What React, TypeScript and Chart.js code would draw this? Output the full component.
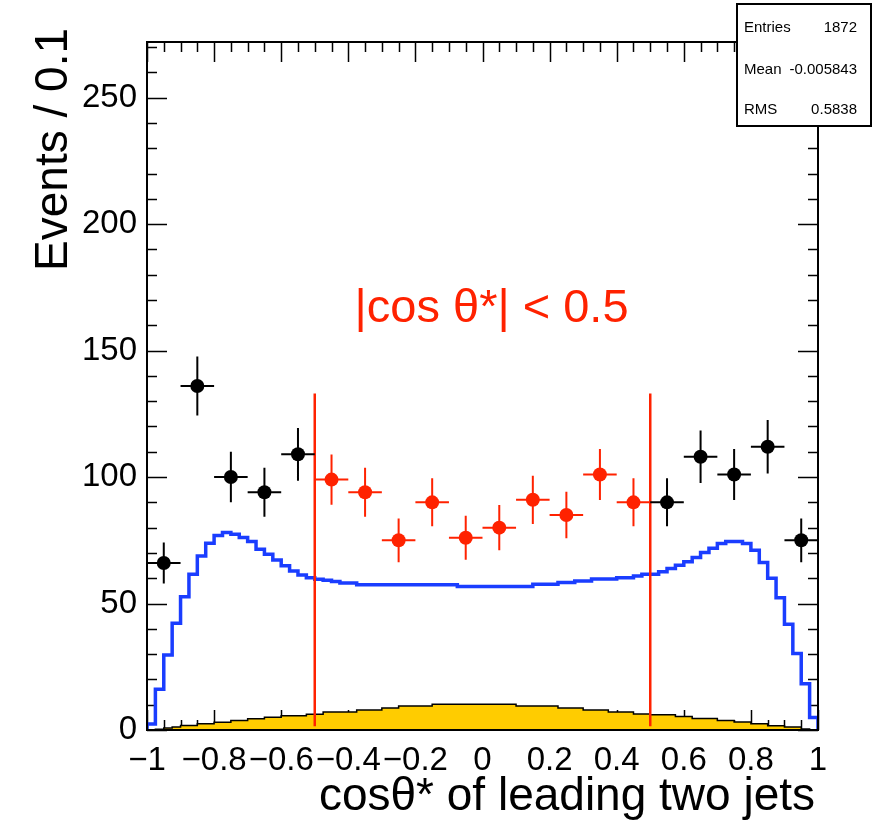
import React, { useEffect, useRef } from 'react';
import { Chart, registerables } from 'chart.js';

Chart.register(...registerables);

// ---- axis ranges ----
const X_MIN = -1;
const X_MAX = 1;
const Y_MIN = 0;
const Y_MAX = 272;

// ---- data points (bin width 0.1) ----
const blackCenters = [-0.95, -0.85, -0.75, -0.65, -0.55, 0.55, 0.65, 0.75, 0.85, 0.95];
const blackCounts = [66, 136, 100, 94, 109, 90, 108, 101, 112, 75];
const redCenters = [-0.45, -0.35, -0.25, -0.15, -0.05, 0.05, 0.15, 0.25, 0.35, 0.45];
const redCounts = [99, 94, 75, 90, 76, 80, 91, 85, 101, 90];
const DATA_HALF_BIN = 0.05;

// ---- simulated histograms (80 bins of width 0.025 from -1 to 1) ----
const HIST_BIN = 0.025;
const blueHist = [
  2.4, 16.1, 29.7, 42.2, 52.7, 61.6, 68.8, 73.8, 76.9, 78.1,
  77.4, 76.1, 74.5, 71.5, 69.5, 67.2, 64.9, 62.9, 61.3, 60.2,
  59.6, 59.2, 58.7, 58.1, 58.1, 57.4, 57.4, 57.4, 57.4, 57.4,
  57.4, 57.4, 57.4, 57.4, 57.4, 57.4, 57.4, 56.7, 56.7, 56.7,
  56.7, 56.7, 56.7, 56.7, 56.7, 56.7, 57.6, 57.6, 57.6, 58.3,
  58.3, 58.9, 58.9, 59.7, 59.7, 59.7, 60.2, 60.2, 60.9, 61.6,
  61.6, 62.6, 63.8, 65.1, 66.5, 68.2, 70.2, 71.9, 73.7, 74.5,
  74.5, 73.7, 71.1, 66.2, 60.0, 52.3, 41.8, 30.2, 18.3, 4.9,
];
const yellowHist = [
  0.1, 0.3, 0.8, 1.2, 1.8, 1.8, 2.5, 2.5, 3.1, 3.1,
  3.8, 3.8, 4.4, 4.4, 5.0, 5.0, 5.6, 5.6, 5.6, 6.2,
  6.2, 7.1, 7.1, 7.1, 7.1, 7.9, 7.9, 7.9, 8.7, 8.7,
  9.5, 9.5, 9.5, 9.5, 10.2, 10.2, 10.2, 10.2, 10.2, 10.2,
  10.2, 10.2, 10.2, 10.2, 9.5, 9.5, 9.5, 9.5, 9.5, 8.7,
  8.7, 8.7, 7.9, 7.9, 7.9, 7.1, 7.1, 7.1, 6.3, 6.3,
  6.0, 6.0, 6.0, 5.3, 5.3, 4.5, 4.5, 4.5, 3.8, 3.8,
  3.2, 3.2, 2.5, 2.5, 1.7, 1.7, 1.2, 1.2, 0.4, 0.1,
];

// ---- cut lines ----
const cutPositions = [-0.5, 0.5];
const cutLow = 1.5;
const cutHigh = 133;

// ---- tick settings ----
const xMajorStep = 0.2;
const xMinorStep = 0.05;
const yMajorStep = 50;
const yMinorStep = 10;

// ---- stats ----
const statsRows: [string, string][] = [
  ['Entries', '1872'],
  ['Mean', '-0.005843'],
  ['RMS', '0.5838'],
];

const FONT = "'Liberation Sans', Arial, Helvetica, sans-serif";
const RED = '#ff2200';
const BLUE = '#1a3dff';
const GOLD = '#ffcc00';

function histPoints(values: number[]) {
  const pts: { x: number; y: number }[] = [{ x: X_MIN, y: 0 }];
  values.forEach((v, i) => pts.push({ x: X_MIN + i * HIST_BIN, y: v }));
  pts.push({ x: X_MAX, y: values[values.length - 1] });
  pts.push({ x: X_MAX, y: 0 });
  return pts;
}

function errorBarPoints(centers: number[], counts: number[]) {
  const pts: { x: number; y: number | null }[] = [];
  centers.forEach((c, i) => {
    const n = counts[i];
    const e = Math.sqrt(n);
    pts.push({ x: c - DATA_HALF_BIN, y: n }, { x: c + DATA_HALF_BIN, y: n }, { x: c, y: null });
    pts.push({ x: c, y: n - e }, { x: c, y: n + e }, { x: c, y: null });
  });
  return pts;
}

function cutPoints() {
  const pts: { x: number; y: number | null }[] = [];
  cutPositions.forEach((c) => {
    pts.push({ x: c, y: cutLow }, { x: c, y: cutHigh }, { x: c, y: null });
  });
  return pts;
}

const decorPlugin = {
  id: 'rootDecor',
  beforeDatasetsDraw(chart: any) {
    const { ctx, chartArea: a, scales } = chart;
    const xs = scales.x;
    const ys = scales.y;
    ctx.save();
    ctx.strokeStyle = '#000';
    ctx.lineWidth = 1.5;
    ctx.beginPath();
    const nx = Math.round((X_MAX - X_MIN) / xMinorStep);
    const perMajX = Math.round(xMajorStep / xMinorStep);
    for (let i = 0; i <= nx; i++) {
      const v = X_MIN + i * xMinorStep;
      const px = Math.round(xs.getPixelForValue(v)) + 0.5;
      const len = i % perMajX === 0 ? 20 : 10;
      ctx.moveTo(px, a.bottom);
      ctx.lineTo(px, a.bottom - len);
      ctx.moveTo(px, a.top);
      ctx.lineTo(px, a.top + len);
    }
    const perMajY = Math.round(yMajorStep / yMinorStep);
    for (let i = 0; Y_MIN + i * yMinorStep <= Y_MAX; i++) {
      const v = Y_MIN + i * yMinorStep;
      const py = Math.round(ys.getPixelForValue(v)) + 0.5;
      const len = i % perMajY === 0 ? 20 : 10;
      ctx.moveTo(a.left, py);
      ctx.lineTo(a.left + len, py);
      ctx.moveTo(a.right, py);
      ctx.lineTo(a.right - len, py);
    }
    ctx.stroke();
    ctx.restore();
  },
  afterDatasetsDraw(chart: any) {
    const { ctx, chartArea: a, scales } = chart;
    const xs = scales.x;
    const ys = scales.y;
    ctx.save();
    // frame
    ctx.strokeStyle = '#000';
    ctx.lineWidth = 2;
    ctx.strokeRect(a.left, a.top, a.right - a.left, a.bottom - a.top);

    // cut label
    ctx.fillStyle = RED;
    ctx.font = `47px ${FONT}`;
    ctx.textAlign = 'center';
    ctx.textBaseline = 'alphabetic';
    ctx.fillText('|cos θ*| < 0.5', xs.getPixelForValue(0.027), ys.getPixelForValue(161.5));

    // axis titles
    ctx.fillStyle = '#000';
    ctx.font = `46px ${FONT}`;
    ctx.textAlign = 'right';
    ctx.textBaseline = 'alphabetic';
    ctx.fillText('cosθ* of leading two jets', 815, 810);

    ctx.save();
    ctx.translate(67, 28);
    ctx.rotate(-Math.PI / 2);
    ctx.textAlign = 'right';
    ctx.fillText('Events / 0.1', 0, 0);
    ctx.restore();

    // stats box
    ctx.fillStyle = '#fff';
    ctx.fillRect(737, 4, 134, 122);
    ctx.lineWidth = 2;
    ctx.strokeStyle = '#000';
    ctx.strokeRect(737, 4, 134, 122);
    ctx.fillStyle = '#000';
    ctx.font = `15px ${FONT}`;
    const baselines = [31.5, 73.5, 114];
    statsRows.forEach((row, i) => {
      ctx.textAlign = 'left';
      ctx.fillText(row[0], 744, baselines[i]);
      ctx.textAlign = 'right';
      ctx.fillText(row[1], 857, baselines[i]);
    });
    ctx.restore();
  },
};

function fmt(v: number) {
  const r = Math.round(v * 10) / 10;
  if (r === 0) return '0';
  return r < 0 ? '\u2212' + String(-r) : String(r);
}

export default function App() {
  const ref = useRef<HTMLCanvasElement>(null);
  useEffect(() => {
    if (!ref.current) return;
    const chart = new Chart(ref.current, {
      type: 'scatter',
      data: {
        datasets: [
          {
            type: 'scatter',
            label: 'data (outside cut)',
            data: blackCenters.map((c, i) => ({ x: c, y: blackCounts[i] })),
            backgroundColor: '#000',
            borderColor: '#000',
            pointRadius: 7,
            pointHoverRadius: 7,
            borderWidth: 0,
            order: 1,
          },
          {
            type: 'scatter',
            label: 'data (inside cut)',
            data: redCenters.map((c, i) => ({ x: c, y: redCounts[i] })),
            backgroundColor: RED,
            borderColor: RED,
            pointRadius: 7,
            pointHoverRadius: 7,
            borderWidth: 0,
            order: 2,
          },
          {
            type: 'line',
            label: 'errors black',
            data: errorBarPoints(blackCenters, blackCounts),
            borderColor: '#000',
            borderWidth: 2,
            pointRadius: 0,
            spanGaps: false,
            fill: false,
            tension: 0,
            order: 3,
          } as any,
          {
            type: 'line',
            label: 'errors red',
            data: errorBarPoints(redCenters, redCounts),
            borderColor: RED,
            borderWidth: 2,
            pointRadius: 0,
            spanGaps: false,
            fill: false,
            tension: 0,
            order: 4,
          } as any,
          {
            type: 'line',
            label: 'cut',
            data: cutPoints(),
            borderColor: RED,
            borderWidth: 2.5,
            pointRadius: 0,
            spanGaps: false,
            fill: false,
            order: 5,
          } as any,
          {
            type: 'line',
            label: 'blue',
            data: histPoints(blueHist),
            borderColor: BLUE,
            borderWidth: 3.5,
            pointRadius: 0,
            stepped: true,
            fill: false,
            order: 6,
          } as any,
          {
            type: 'line',
            label: 'yellow',
            data: histPoints(yellowHist),
            borderColor: '#000',
            backgroundColor: GOLD,
            borderWidth: 1.5,
            pointRadius: 0,
            stepped: true,
            fill: 'origin',
            order: 7,
          } as any,
        ],
      },
      options: {
        responsive: false,
        animation: false,
        events: [],
        layout: { padding: { top: 42, right: 61, left: 0, bottom: 0 } },
        plugins: {
          legend: { display: false },
          tooltip: { enabled: false },
          title: { display: false },
        },
        scales: {
          x: {
            type: 'linear',
            min: X_MIN,
            max: X_MAX,
            grid: { display: false, drawTicks: false },
            border: { display: false },
            afterFit: (s: any) => {
              s.height = 95;
            },
            ticks: {
              stepSize: xMajorStep,
              includeBounds: false,
              autoSkip: false,
              maxRotation: 0,
              minRotation: 0,
              padding: 11,
              color: '#000',
              font: { family: FONT, size: 33 },
              callback: (v: any) => fmt(Number(v)),
            },
          },
          y: {
            type: 'linear',
            min: Y_MIN,
            max: Y_MAX,
            grid: { display: false, drawTicks: false },
            border: { display: false },
            afterFit: (s: any) => {
              s.width = 147;
            },
            ticks: {
              stepSize: yMajorStep,
              includeBounds: false,
              autoSkip: false,
              padding: 10,
              color: '#000',
              font: { family: FONT, size: 33 },
              callback: (v: any) => String(Math.round(Number(v))),
            },
          },
        },
      },
      plugins: [decorPlugin],
    });
    return () => chart.destroy();
  }, []);
  return (
    <div style={{ position: 'absolute', left: 0, top: 0, width: 879, height: 825, background: '#fff' }}>
      <canvas ref={ref} width={879} height={825} />
    </div>
  );
}
